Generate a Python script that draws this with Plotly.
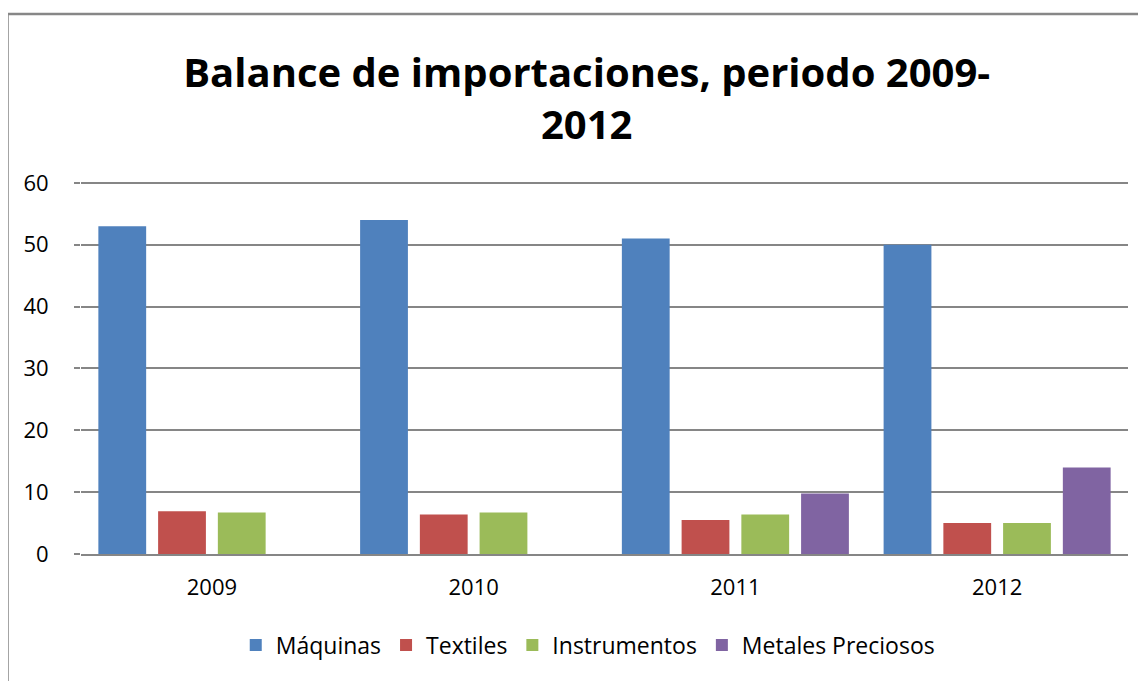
import plotly.graph_objects as go

years = ["2009", "2010", "2011", "2012"]
maquinas = [53, 54, 51, 50]
textiles = [6.9, 6.4, 5.5, 5.0]
instrumentos = [6.7, 6.7, 6.4, 5.0]
metales = [None, None, 9.8, 14]

series_names = ["Máquinas", "Textiles", "Instrumentos", "Metales Preciosos"]
series_values = [maquinas, textiles, instrumentos, metales]
colors = ["#4F81BD", "#C0504D", "#9BBB59", "#8064A2"]
y_ticks = [0, 10, 20, 30, 40, 50, 60]

FONT = "'Open Sans', Lato, sans-serif"

fig = go.Figure()
for name, vals, col in zip(series_names, series_values, colors):
    fig.add_trace(go.Bar(x=years, y=vals, name=name, marker=dict(color=col, line=dict(width=0))))

# the page body adds an 8px offset, so the figure is drawn 8px smaller
W, H = 1138, 673
L, R, T, B = 73, 18, 173, 127
pw = W - L - R
ph = H - T - B

fig.update_layout(
    width=W, height=H,
    margin=dict(l=L, r=R, t=T, b=B, autoexpand=False),
    paper_bgcolor="white", plot_bgcolor="white",
    font=dict(family=FONT, color="#000000", size=22),
    barmode="group", bargap=0.087, bargroupgap=0.2,
    title=dict(
        text="<b>Balance de importaciones, periodo 2009-<br>2012</b>",
        x=0.483, xanchor="center", xref="paper",
        y=(H - 79) / H, yanchor="middle", yref="container",
        font=dict(family=FONT, size=40, color="#000000"),
    ),
    showlegend=True,
    legend=dict(
        orientation="h", x=0.484, xanchor="center", xref="paper",
        y=-91 / ph, yanchor="middle",
        font=dict(family=FONT, size=23, color="#000000"),
        itemwidth=30, traceorder="normal",
    ),
    xaxis=dict(
        type="category", showgrid=False, showline=True, linecolor="#868686", linewidth=2,
        ticks="", tickfont=dict(family=FONT, size=22), ticklabelstandoff=13, fixedrange=True,
    ),
    yaxis=dict(
        range=[0, 60.3], tickvals=y_ticks, showgrid=True, gridcolor="#868686", gridwidth=1.5,
        zeroline=False, showline=False, ticks="outside", ticklen=6, tickcolor="#868686", tickwidth=1.5,
        tickfont=dict(family=FONT, size=22), ticklabelstandoff=21, fixedrange=True,
    ),
    shapes=[dict(
        type="rect", xref="paper", yref="paper",
        x0=(-0.5 - L) / pw, x1=1.3, y0=-1.0, y1=(H - B - 6) / ph,
        line=dict(color="#878787", width=2.5), fillcolor="rgba(0,0,0,0)", layer="above",
    )],
)

fig.write_html("out.html")
